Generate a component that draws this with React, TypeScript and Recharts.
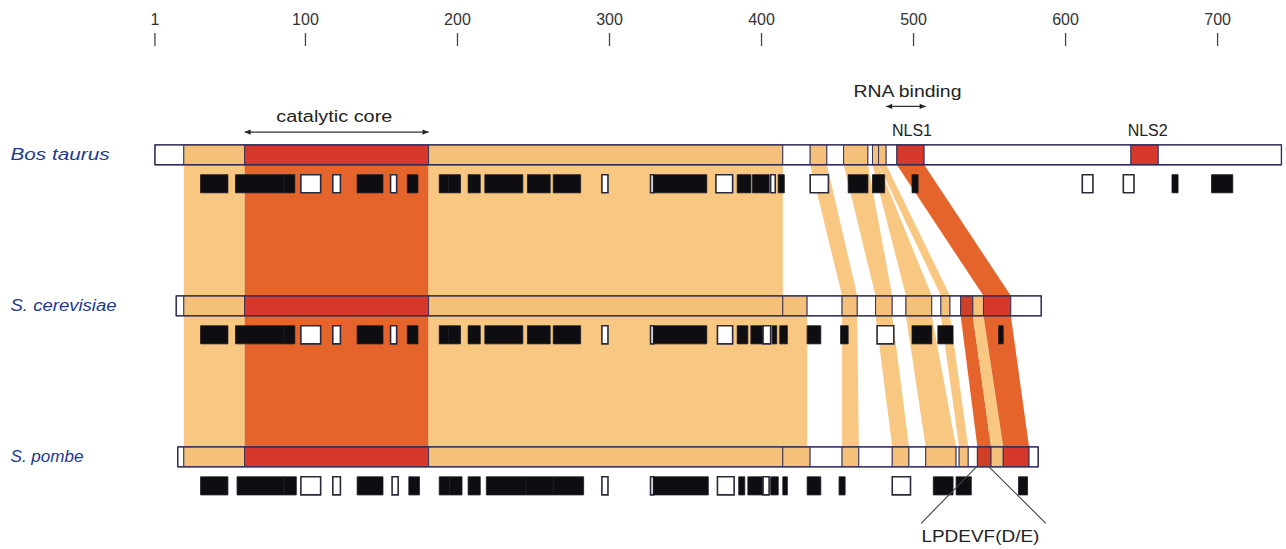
import React from 'react';
import { ComposedChart, XAxis, YAxis, ReferenceArea, ReferenceLine, ReferenceDot } from 'recharts';

type Seg = [number, number, string];
type Band = [number, number, number, number, string];

// residue scale ticks
const TICKS = [1, 100, 200, 300, 400, 500, 600, 700];
const SPECIES = ['Bos taurus', 'S. cerevisiae', 'S. pombe'];
const SPECIES_WIDTH = [99, 106, 73];

// domain segments along each protein bar: n = unaligned, l = conserved, c = core / NLS, o = LPDEVF motif
const BOS_DOMAINS: Seg[] = [
  [1, 20, 'n'], [20, 60, 'l'], [60, 181, 'c'], [181, 414, 'l'], [414, 432, 'n'],
  [432, 443, 'l'], [443, 454, 'n'], [454, 470, 'l'], [470, 473, 'n'], [473, 477, 'l'],
  [477, 482, 'l'], [482, 489, 'n'], [489, 507, 'c'], [507, 643, 'n'], [643, 661, 'c'], [661, 742, 'n'],
];
const SCER_DOMAINS: Seg[] = [
  [15, 20, 'n'], [20, 60, 'l'], [60, 181, 'c'], [181, 414, 'l'], [414, 430, 'l'],
  [430, 453, 'n'], [453, 463, 'l'], [463, 475, 'n'], [475, 486, 'l'], [486, 495, 'n'],
  [495, 512, 'l'], [512, 518, 'n'], [518, 524, 'l'], [524, 531, 'n'], [531, 539, 'o'],
  [539, 546, 'l'], [546, 564, 'c'], [564, 584, 'n'],
];
const SPOM_DOMAINS: Seg[] = [
  [16, 20, 'n'], [20, 60, 'l'], [60, 181, 'c'], [181, 414, 'l'], [414, 432, 'l'],
  [432, 453, 'n'], [453, 464, 'l'], [464, 486, 'n'], [486, 497, 'l'], [497, 508, 'n'],
  [508, 528, 'l'], [528, 530, 'n'], [530, 536, 'l'], [536, 542, 'n'], [542, 551, 'o'],
  [551, 559, 'l'], [559, 576, 'c'], [576, 582, 'n'],
];

// secondary structure: h = helix (black), e = strand (white)
const BOS_SS: Seg[] = [
  [31, 49, 'h'], [54, 86, 'h'], [86, 93, 'h'], [97, 110, 'e'], [118, 123, 'e'], [134, 151, 'h'],
  [156, 160, 'e'], [167, 174, 'h'], [188, 194, 'h'], [194, 202, 'h'], [207, 215, 'h'], [218, 243, 'h'],
  [246, 261, 'h'], [263, 281, 'h'], [295, 299, 'e'], [327, 329, 'e'], [329, 364, 'h'], [370, 381, 'e'],
  [384, 393, 'h'], [394, 405, 'h'], [406, 409, 'e'], [411, 415, 'h'], [432, 444, 'e'], [457, 470, 'h'],
  [473, 481, 'h'], [499, 503, 'h'], [611, 618, 'e'], [638, 645, 'e'], [670, 674, 'h'], [696, 710, 'h'],
];
const SCER_SS: Seg[] = [
  [31, 49, 'h'], [54, 86, 'h'], [86, 93, 'h'], [97, 110, 'e'], [118, 123, 'e'], [134, 151, 'h'],
  [156, 160, 'e'], [167, 174, 'h'], [188, 194, 'h'], [194, 202, 'h'], [207, 215, 'h'], [218, 243, 'h'],
  [246, 261, 'h'], [263, 281, 'h'], [295, 299, 'e'], [327, 329, 'e'], [329, 364, 'h'], [371, 381, 'e'],
  [384, 391, 'h'], [393, 401, 'h'], [401, 406, 'e'], [407, 410, 'h'], [412, 417, 'h'], [430, 439, 'h'],
  [452, 457, 'h'], [476, 487, 'e'], [499, 512, 'h'], [516, 526, 'h'], [556, 559, 'h'],
];
const SPOM_SS: Seg[] = [
  [31, 49, 'h'], [55, 86, 'h'], [86, 94, 'h'], [97, 110, 'e'], [118, 123, 'e'], [134, 151, 'h'],
  [157, 161, 'e'], [168, 175, 'h'], [188, 195, 'h'], [195, 203, 'h'], [207, 215, 'h'], [219, 245, 'h'],
  [245, 263, 'h'], [263, 283, 'h'], [295, 299, 'e'], [327, 329, 'e'], [329, 365, 'h'], [371, 382, 'e'],
  [385, 389, 'h'], [391, 401, 'h'], [401, 405, 'e'], [406, 411, 'h'], [414, 417, 'h'], [430, 439, 'h'],
  [451, 455, 'h'], [486, 498, 'e'], [513, 526, 'h'], [528, 538, 'h'], [569, 575, 'h'],
];

// aligned blocks between neighbouring rows
const BOS_SCER_CORE: Seg[] = [[20, 60, 'l'], [60, 181, 'o'], [181, 414, 'l']];
const SCER_SPOM_CORE: Seg[] = [[20, 60, 'l'], [60, 181, 'o'], [181, 430, 'l']];
const BOS_SCER_BANDS: Band[] = [
  [432, 443, 453, 463, 'l'], [454, 470, 475, 486, 'l'], [473, 477, 495, 512, 'l'],
  [477, 482, 518, 524, 'l'], [489, 507, 546, 564, 'o'],
];
const SCER_SPOM_BANDS: Band[] = [
  [453, 463, 453, 464, 'l'], [475, 486, 486, 497, 'l'], [495, 512, 508, 528, 'l'],
  [518, 524, 530, 536, 'l'], [531, 539, 542, 551, 'o'], [539, 546, 551, 559, 'l'], [546, 564, 559, 576, 'o'],
];

const BAR_COLORS: Record<string, string> = { n: '#ffffff', l: '#F4C07A', c: '#D6392B', o: '#CE4027' };
const BAND_COLORS: Record<string, string> = { l: '#F8C883', o: '#E4642B' };
const OUTLINE = '#2f2b55';
const FONT = 'Liberation Sans, Arial, sans-serif';

const BAR_H = 0.066;
const SS_TOP = 0.132;
const SS_BOT = 0.252;

const bandShape = (a1: number, a2: number, b1: number, b2: number, fill: string) => (p: any) => {
  const lo = Math.min(a1, b1);
  const hi = Math.max(a2, b2);
  const k = p.width / (hi - lo);
  const px = (v: number) => p.x + (v - lo) * k;
  const t = p.y;
  const b = p.y + p.height;
  return <polygon points={`${px(a1)},${t} ${px(a2)},${t} ${px(b2)},${b} ${px(b1)},${b}`} fill={fill} stroke="none" />;
};

const textShape = (label: string, anchor: string, size: number, color: string, width?: number, italic = false) => (p: any) => (
  <text x={p.cx} y={p.cy} textAnchor={anchor} dominantBaseline="central" fontSize={size} fill={color}
    fontFamily={FONT} fontStyle={italic ? 'italic' : 'normal'}
    {...(width ? { textLength: width, lengthAdjust: 'spacingAndGlyphs' } : {})}>{label}</text>
);

const arrowHead = (dir: number) => (p: any) => (
  <polygon points={`${p.cx},${p.cy} ${p.cx - dir * 6},${p.cy - 2.6} ${p.cx - dir * 6},${p.cy + 2.6}`} fill="#222" />
);

export default function App() {
  const rows = [BOS_DOMAINS, SCER_DOMAINS, SPOM_DOMAINS];
  const ss = [BOS_SS, SCER_SS, SPOM_SS];
  const cores = [BOS_SCER_CORE, SCER_SPOM_CORE];
  const bands = [BOS_SCER_BANDS, SCER_SPOM_BANDS];
  const els: React.ReactNode[] = [];

  cores.forEach((list, r) => {
    list.forEach((s, i) => {
      els.push(
        <ReferenceArea key={`core${r}-${i}`} x1={s[0]} x2={s[1]} y1={r + BAR_H} y2={r + 1 - BAR_H}
          fill={BAND_COLORS[s[2]]} fillOpacity={1} stroke="none" ifOverflow="visible" />
      );
    });
  });
  bands.forEach((list, r) => {
    list.forEach((b, i) => {
      els.push(
        <ReferenceArea key={`band${r}-${i}`} x1={Math.min(b[0], b[2])} x2={Math.max(b[1], b[3])}
          y1={r + BAR_H} y2={r + 1 - BAR_H} ifOverflow="visible"
          shape={bandShape(b[0], b[1], b[2], b[3], BAND_COLORS[b[4]])} />
      );
    });
  });
  rows.forEach((list, r) => {
    list.forEach((s, i) => {
      els.push(
        <ReferenceArea key={`seg${r}-${i}`} x1={s[0]} x2={s[1]} y1={r - BAR_H} y2={r + BAR_H}
          fill={BAR_COLORS[s[2]]} fillOpacity={1} stroke={OUTLINE} strokeWidth={0.9} ifOverflow="visible" />
      );
    });
    els.push(
      <ReferenceArea key={`out${r}`} x1={list[0][0]} x2={list[list.length - 1][1]} y1={r - BAR_H} y2={r + BAR_H}
        fill="none" fillOpacity={0} stroke={OUTLINE} strokeWidth={1.3} ifOverflow="visible" />
    );
  });
  ss.forEach((list, r) => {
    list.forEach((s, i) => {
      els.push(
        <ReferenceArea key={`ss${r}-${i}`} x1={s[0]} x2={s[1]} y1={r + SS_TOP} y2={r + SS_BOT}
          fill={s[2] === 'h' ? '#0d0d12' : '#ffffff'} fillOpacity={1}
          stroke={s[2] === 'h' ? '#1a1a22' : '#2a2a3a'} strokeWidth={s[2] === 'h' ? 0.8 : 1.6} ifOverflow="visible" />
      );
    });
  });

  return (
    <div style={{ width: 1286, height: 549, background: '#fff' }}>
      <style>{'body{margin:0;background:#fff}'}</style>
      <ComposedChart width={1286} height={549} data={TICKS.map((t) => ({ pos: t }))}
        margin={{ top: 16, right: 0, bottom: 0, left: 9 }}>
        <XAxis xAxisId={0} dataKey="pos" type="number" orientation="top" domain={[-95, 745]} allowDataOverflow
          ticks={TICKS} interval={0} axisLine={false} tickLine={{ stroke: '#444', strokeWidth: 1.3 }}
          tickSize={13} tickMargin={8} height={30}
          tick={{ fontSize: 16, fill: '#333', fontFamily: FONT }} />
        <YAxis yAxisId={0} type="number" domain={[-0.72, 2.61]} allowDataOverflow reversed hide width={0} />
        {els}
        {/* annotations */}
        <ReferenceLine segment={[{ x: 60, y: -0.15 }, { x: 181, y: -0.15 }]} stroke="#333" strokeWidth={1.2} ifOverflow="visible" />
        <ReferenceLine segment={[{ x: 482, y: -0.32 }, { x: 508, y: -0.32 }]} stroke="#333" strokeWidth={1.2} ifOverflow="visible" />
        <ReferenceLine segment={[{ x: 542, y: 2.06 }, { x: 505, y: 2.44 }]} stroke="#444" strokeWidth={1.1} ifOverflow="visible" />
        <ReferenceLine segment={[{ x: 549, y: 2.06 }, { x: 587, y: 2.44 }]} stroke="#444" strokeWidth={1.1} ifOverflow="visible" />
        <ReferenceDot x={60} y={-0.15} r={3} ifOverflow="visible" shape={arrowHead(-1)} />
        <ReferenceDot x={181} y={-0.15} r={3} ifOverflow="visible" shape={arrowHead(1)} />
        <ReferenceDot x={482} y={-0.32} r={3} ifOverflow="visible" shape={arrowHead(-1)} />
        <ReferenceDot x={508} y={-0.32} r={3} ifOverflow="visible" shape={arrowHead(1)} />
        <ReferenceDot x={119} y={-0.25} r={1} ifOverflow="visible" shape={textShape('catalytic core', 'middle', 16, '#222', 116)} />
        <ReferenceDot x={496} y={-0.42} r={1} ifOverflow="visible" shape={textShape('RNA binding', 'middle', 16, '#222', 108)} />
        <ReferenceDot x={499} y={-0.16} r={1} ifOverflow="visible" shape={textShape('NLS1', 'middle', 16, '#222', 40)} />
        <ReferenceDot x={654} y={-0.16} r={1} ifOverflow="visible" shape={textShape('NLS2', 'middle', 16, '#222', 40)} />
        <ReferenceDot x={544} y={2.53} r={1} ifOverflow="visible" shape={textShape('LPDEVF(D/E)', 'middle', 16, '#222', 118)} />
        {SPECIES.map((name, r) => (
          <ReferenceDot key={name} x={-94} y={r} r={1} ifOverflow="visible"
            shape={textShape(name, 'start', 16, '#1d3a8c', SPECIES_WIDTH[r], true)} />
        ))}
      </ComposedChart>
    </div>
  );
}
